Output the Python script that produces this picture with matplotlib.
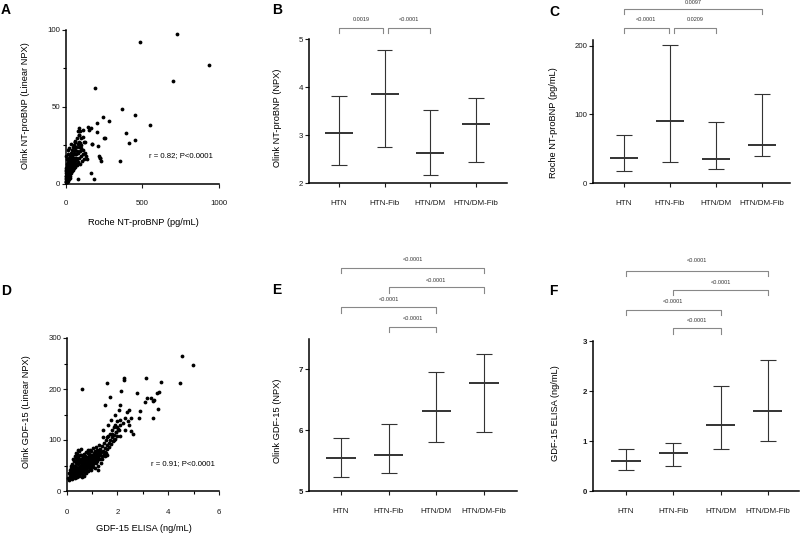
import numpy as np
import matplotlib
matplotlib.use('Agg')
import matplotlib.pyplot as plt

plt.rcParams['font.family'] = ['Liberation Sans', 'DejaVu Sans']

groups = ['HTN', 'HTN-Fib', 'HTN/DM', 'HTN/DM-Fib']

# panel B: Olink NT-proBNP (NPX)
b_mean = [3.04, 3.85, 2.62, 3.23]
b_low = [2.37, 2.74, 2.17, 2.43]
b_high = [3.82, 4.77, 3.52, 3.78]
b_tests = [(0, 1, '0.0019'), (1, 2, '<0.0001')]

# panel C: Roche NT-proBNP (pg/mL)
c_mean = [37, 91, 35, 56]
c_low = [17, 30, 21, 39]
c_high = [70, 201, 89, 130]
c_tests = [(0, 1, '<0.0001'), (1, 2, '0.0209'), (0, 3, '0.0097')]

# panel E: Olink GDF-15 (NPX)
e_mean = [5.54, 5.59, 6.32, 6.77]
e_low = [5.23, 5.30, 5.81, 5.97]
e_high = [5.87, 6.10, 6.96, 7.26]
e_tests = [(1, 2, '<0.0001'), (0, 2, '<0.0001'), (1, 3, '<0.0001'), (0, 3, '<0.0001')]

# panel F: GDF-15 ELISA (ng/mL)
f_mean = [0.61, 0.76, 1.33, 1.60]
f_low = [0.42, 0.50, 0.84, 1.00]
f_high = [0.85, 0.97, 2.10, 2.62]
f_tests = e_tests

# panel A: Roche NT-proBNP vs Olink NT-proBNP (x, y)
a_pts = [
    (724, 97.4), (485, 92.4), (937, 77.2), (700, 67.0), (193, 62.5), (365, 48.4), (452, 44.7), (246, 43.6),
    (285, 41.0), (207, 39.3), (550, 38.2), (148, 36.7), (163, 36.0), (93, 34.5), (391, 32.8), (207, 33.8),
    (252, 29.9), (452, 28.2), (415, 26.7), (170, 25.8), (213, 24.7), (215, 18.2), (224, 16.5), (354, 14.5),
    (165, 6.7), (187, 2.8), (78, 3.0), (0, 18.2), (111, 35), (82, 34), (87, 31.7), (115, 30.6), (61, 27.3),
    (126, 27.3), (93, 26.5), (61, 24), (100, 23), (85, 36), (150, 35), (254, 30), (63, 27), (172, 26),
    (226, 16.5), (230, 15),
    (1, 1), (2, 3), (3, 1), (3, 5), (4, 2), (5, 4), (5, 8), (6, 1), (7, 3), (7, 6),
    (8, 2), (8, 9), (9, 5), (10, 1), (10, 7), (11, 3), (11, 11), (12, 5), (13, 8), (14, 2),
    (14, 12), (15, 6), (16, 4), (16, 10), (17, 14), (18, 7), (19, 3), (20, 9), (20, 15), (21, 5),
    (22, 12), (23, 8), (24, 17), (25, 4), (25, 11), (26, 14), (27, 7), (28, 10), (29, 18), (30, 5),
    (30, 13), (31, 9), (32, 16), (33, 11), (34, 20), (35, 7), (36, 14), (37, 10), (38, 18), (39, 12),
    (40, 22), (41, 8), (42, 15), (43, 11), (44, 19), (45, 13), (46, 24), (47, 9), (48, 17), (50, 12),
    (51, 21), (52, 15), (53, 10), (55, 19), (56, 13), (57, 25), (58, 17), (60, 11), (61, 22), (62, 15),
    (63, 28), (65, 19), (66, 13), (68, 24), (70, 17), (71, 12), (72, 30), (74, 21), (76, 16), (78, 26),
    (80, 14), (82, 20), (84, 32), (85, 24), (87, 17), (90, 27), (92, 13), (95, 21), (97, 30), (100, 18),
    (103, 25), (106, 15), (110, 22), (114, 19), (118, 27), (122, 16), (128, 20), (135, 18), (140, 16),
    (2, 7), (4, 10), (6, 13), (9, 16), (12, 19), (18, 22), (24, 23), (32, 26), (3, 9), (1, 5),
]

# panel D: GDF-15 ELISA vs Olink GDF-15 (x, y)
d_pts = [
    (4.55, 265), (4.98, 248), (4.46, 212), (3.71, 214), (3.12, 222), (2.27, 222), (2.25, 217), (0.60, 200),
    (1.57, 211), (1.70, 185), (1.51, 169), (2.13, 196), (2.76, 193), (3.10, 175), (3.18, 182), (3.31, 182),
    (3.41, 176), (3.54, 193), (3.65, 194), (3.61, 160), (3.41, 144), (2.89, 157), (2.85, 144), (2.36, 155),
    (2.47, 159), (2.10, 169), (2.07, 158), (2.52, 144), (2.30, 144), (2.10, 139), (2.10, 129), (2.47, 129),
    (2.52, 117), (2.62, 111), (2.05, 120), (1.94, 115), (1.64, 129), (1.44, 120), (1.42, 106), (1.57, 105),
    (2.10, 108), (3.45, 178), (2.00, 125), (2.20, 133), (2.40, 138), (1.80, 112), (1.85, 100), (2.30, 120),
    (1.75, 140), (1.90, 150),
    (0.10, 22), (0.12, 28), (0.15, 35), (0.18, 25), (0.20, 30), (0.20, 40), (0.22, 33), (0.25, 27),
    (0.25, 45), (0.28, 38), (0.30, 31), (0.30, 50), (0.32, 42), (0.33, 35), (0.35, 28), (0.35, 55),
    (0.37, 47), (0.38, 39), (0.40, 33), (0.40, 60), (0.42, 44), (0.43, 52), (0.45, 36), (0.45, 67),
    (0.47, 48), (0.48, 41), (0.50, 30), (0.50, 57), (0.52, 45), (0.53, 70), (0.55, 38), (0.55, 51),
    (0.57, 62), (0.58, 43), (0.60, 34), (0.60, 55), (0.62, 48), (0.63, 66), (0.65, 40), (0.65, 58),
    (0.67, 52), (0.68, 73), (0.70, 45), (0.70, 62), (0.72, 36), (0.72, 55), (0.74, 68), (0.75, 49),
    (0.77, 59), (0.78, 42), (0.80, 64), (0.80, 52), (0.82, 75), (0.83, 47), (0.85, 58), (0.86, 69),
    (0.88, 54), (0.90, 44), (0.90, 63), (0.92, 80), (0.93, 57), (0.95, 50), (0.95, 71), (0.97, 61),
    (1.00, 55), (1.00, 66), (1.02, 84), (1.03, 48), (1.05, 60), (1.06, 74), (1.08, 65), (1.10, 57),
    (1.10, 78), (1.12, 69), (1.15, 62), (1.15, 86), (1.18, 73), (1.20, 58), (1.20, 80), (1.22, 67),
    (1.25, 75), (1.27, 90), (1.30, 70), (1.30, 62), (1.33, 83), (1.35, 76), (1.38, 68), (1.40, 88),
    (1.42, 79), (1.45, 72), (1.48, 95), (1.50, 84), (1.52, 77), (1.55, 100), (1.58, 90), (1.60, 82),
    (1.62, 108), (1.65, 95), (1.68, 87), (1.70, 112), (1.72, 100), (1.75, 93), (1.78, 120), (1.80, 105),
    (1.82, 98), (1.85, 125), (1.88, 110), (1.90, 102), (1.92, 130), (1.95, 115), (1.98, 108), (2.00, 137),
    (2.02, 122), (0.15, 45), (0.22, 52), (0.28, 58), (0.35, 65), (0.42, 72), (0.50, 78), (0.58, 82),
    (0.62, 28), (0.70, 30), (0.75, 35), (0.85, 40), (0.95, 42), (0.05, 25), (0.08, 35), (0.12, 42),
    (0.18, 50), (0.25, 62), (0.32, 68), (0.38, 74), (0.45, 80), (1.10, 45), (1.25, 50), (1.35, 55),
    (1.40, 62), (1.50, 68), (1.55, 74), (1.60, 70), (1.25, 42),
    (0.12, 32), (0.16, 28), (0.18, 38), (0.22, 24), (0.24, 36), (0.26, 48), (0.28, 30), (0.30, 42),
    (0.33, 26), (0.34, 50), (0.36, 36), (0.38, 58), (0.40, 44), (0.41, 28), (0.43, 63), (0.44, 40),
    (0.46, 54), (0.48, 34), (0.49, 62), (0.51, 46), (0.52, 38), (0.54, 58), (0.56, 44), (0.57, 70),
    (0.59, 52), (0.61, 40), (0.62, 62), (0.64, 50), (0.66, 70), (0.67, 44), (0.69, 56), (0.71, 66),
    (0.73, 48), (0.74, 60), (0.76, 76), (0.78, 54), (0.79, 66), (0.81, 46), (0.83, 60), (0.84, 80),
    (0.86, 52), (0.87, 64), (0.89, 72), (0.91, 58), (0.93, 48), (0.94, 66), (0.96, 78), (0.98, 56),
    (0.99, 70), (1.01, 62), (1.04, 52), (1.06, 68), (1.09, 60), (1.12, 76), (1.14, 54), (1.17, 66),
    (1.21, 72), (1.24, 62), (1.28, 80), (1.32, 74),
]

W, H = 800, 534
fig = plt.figure(figsize=(W / 100, H / 100), dpi=100)


def px_axes(l, t, r, b):
    return fig.add_axes([l / W, 1 - b / H, (r - l) / W, (b - t) / H])


def style(ax, xpad=9):
    for s in ['top', 'right']:
        ax.spines[s].set_visible(False)
    for s in ['left', 'bottom']:
        ax.spines[s].set_linewidth(1.1)
    ax.tick_params(width=0.8, length=3, labelsize=5.7, colors='#1a1a1a')
    ax.tick_params(axis='y', pad=1)
    ax.tick_params(axis='x', pad=xpad)
    ax.tick_params(which='minor', width=0.8, length=2)


def ylab(ax, text, x, y):
    ax.text(x, y, text, transform=ax.transAxes, rotation=90, ha='center', va='center', fontsize=6.7)


def xlab(ax, text, x, y):
    ax.text(x, y, text, transform=ax.transAxes, ha='center', va='center', fontsize=6.7)


def scatter_panel(ax, pts):
    p = np.array(pts)
    ax.scatter(p[:, 0], p[:, 1], s=7.5, color='black', linewidths=0, clip_on=False, zorder=3)


def summary_panel(ax, low, mean, high):
    x = np.arange(len(groups))
    col = '#333333'
    ax.vlines(x, low, high, color=col, lw=0.8)
    ax.hlines(low, x - 0.17, x + 0.17, color=col, lw=0.8)
    ax.hlines(high, x - 0.17, x + 0.17, color=col, lw=0.8)
    ax.hlines(mean, x - 0.31, x + 0.31, color=col, lw=1.4)
    ax.set_xticks(x)
    ax.set_xticklabels(groups, fontsize=5.8)


def bracket(ax, x0, x1, y, drop, label, ly):
    ax.plot([x0, x0, x1, x1], [y - drop, y, y, y - drop], color='#888888', lw=0.8, clip_on=False)
    ax.text((x0 + x1) / 2, ly, label, ha='center', va='center', fontsize=4, color='#333333', clip_on=False)


# A
axA = px_axes(65.7, 30, 219, 183.7)
style(axA, xpad=9)
scatter_panel(axA, a_pts)
axA.set_xlim(0, 1000)
axA.set_ylim(0, 100)
axA.set_xticks([0, 500, 1000])
axA.set_yticks([0, 50, 100])
axA.set_yticks([25, 75], minor=True)
ylab(axA, 'Olink NT-proBNP (Linear NPX)', -0.265, 0.51)
xlab(axA, 'Roche NT-proBNP (pg/mL)', 0.506, -0.25)
axA.text(0.96, 0.18, 'r = 0.82; P<0.0001', transform=axA.transAxes, ha='right', va='center', fontsize=5.6)

# B
axB = px_axes(309, 39, 507, 183)
style(axB)
summary_panel(axB, b_low, b_mean, b_high)
axB.set_xlim(-0.66, 3.68)
axB.set_ylim(2, 5)
axB.set_yticks([2, 3, 4, 5])
ylab(axB, 'Olink NT-proBNP (NPX)', -0.16, 0.455)
bracket(axB, 0, 0.97, 5.23, 0.11, b_tests[0][2], 5.40)
bracket(axB, 1.08, 2, 5.23, 0.11, b_tests[1][2], 5.40)

# C
axC = px_axes(593, 39.8, 790, 183)
style(axC)
summary_panel(axC, c_low, c_mean, c_high)
axC.set_xlim(-0.67, 3.61)
axC.set_ylim(0, 209)
axC.set_yticks([0, 100, 200])
ylab(axC, 'Roche NT-proBNP (pg/mL)', -0.20, 0.42)
bracket(axC, 0, 0.98, 226, 7.5, c_tests[0][2], 238)
bracket(axC, 1.09, 2, 226, 7.5, c_tests[1][2], 238)
bracket(axC, 0, 3, 254, 7, c_tests[2][2], 264)

# D
axD = px_axes(66.7, 338, 219, 491)
style(axD, xpad=10)
scatter_panel(axD, d_pts)
axD.set_xlim(0, 6)
axD.set_ylim(0, 300)
axD.set_xticks([0, 2, 4, 6])
axD.set_xticks([1, 3, 5], minor=True)
axD.set_yticks([0, 100, 200, 300])
axD.set_yticks([50, 150, 250], minor=True)
ylab(axD, 'Olink GDF-15 (Linear NPX)', -0.267, 0.52)
xlab(axD, 'GDF-15 ELISA (ng/mL)', 0.506, -0.246)
axD.text(0.97, 0.18, 'r = 0.91; P<0.0001', transform=axD.transAxes, ha='right', va='center', fontsize=5.6)

# E
axE = px_axes(309, 339, 517, 491)
style(axE)
summary_panel(axE, e_low, e_mean, e_high)
axE.set_xlim(-0.67, 3.69)
axE.set_ylim(5, 7.5)
axE.set_yticks([5, 6, 7])
for t in axE.get_yticklabels():
    t.set_fontweight('bold')
ylab(axE, 'Olink GDF-15 (NPX)', -0.152, 0.46)
e_y = [(7.70, 7.83), (8.02, 8.15), (8.35, 8.46), (8.67, 8.81)]
for (i0, i1, lab), (yy, ly) in zip(e_tests, e_y):
    bracket(axE, i0, i1, yy, 0.09, lab, ly)

# F
axF = px_axes(593, 341, 799, 491)
style(axF)
summary_panel(axF, f_low, f_mean, f_high)
axF.set_xlim(-0.70, 3.66)
axF.set_ylim(0, 3)
axF.set_yticks([0, 1, 2, 3])
for t in axF.get_yticklabels():
    t.set_fontweight('bold')
ylab(axF, 'GDF-15 ELISA (ng/mL)', -0.184, 0.52)
f_y = [(3.26, 3.41), (3.63, 3.79), (4.03, 4.17), (4.41, 4.62)]
for (i0, i1, lab), (yy, ly) in zip(f_tests, f_y):
    bracket(axF, i0, i1, yy, 0.11, lab, ly)

# panel letters
for letter, px, py in [('A', 6, 10.5), ('B', 277, 9.5), ('C', 554, 12),
                       ('D', 6, 291), ('E', 277, 290.5), ('F', 553, 291)]:
    fig.text(px / W, 1 - py / H, letter, fontsize=10, fontweight='bold', ha='center', va='center')

fig.savefig('out.png', dpi=100)
